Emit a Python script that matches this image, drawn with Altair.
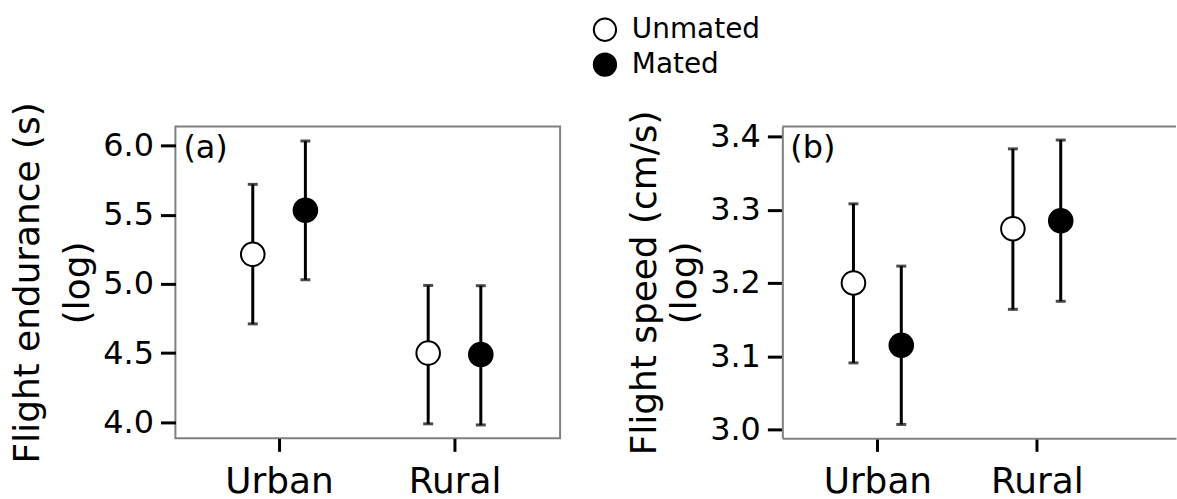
import altair as alt
import pandas as pd

# Habitat groups and mating status
HABITATS = ["Urban", "Rural"]
STATUS = ["Unmated", "Mated"]

# (a) flight endurance, log seconds: mean and interval bounds
END_MEAN = {"Unmated": [5.214, 4.50], "Mated": [5.533, 4.49]}
END_LO = {"Unmated": [4.711, 3.988], "Mated": [5.030, 3.980]}
END_HI = {"Unmated": [5.720, 4.989], "Mated": [6.033, 4.987]}

# (b) flight speed, log cm/s: mean and interval bounds
SPD_MEAN = {"Unmated": [3.200, 3.274], "Mated": [3.115, 3.285]}
SPD_LO = {"Unmated": [3.091, 3.164], "Mated": [3.007, 3.175]}
SPD_HI = {"Unmated": [3.308, 3.383], "Mated": [3.223, 3.395]}

END_TICKS = [4.0, 4.5, 5.0, 5.5, 6.0]
SPD_TICKS = [3.0, 3.1, 3.2, 3.3, 3.4]
PANEL_LABELS = ["(a)", "(b)"]
Y_TITLES = [["Flight endurance (s)", "(log)"], ["Flight speed (cm/s)", "(log)"]]

FONT = "DejaVu Sans"
FRAME = "#808080"
DODGE = 0.15


def table(mean, lo, hi):
    rows = []
    for s in STATUS:
        for i, h in enumerate(HABITATS):
            rows.append({"habitat": h, "pos": i + 1, "status": s,
                         "mean": mean[s][i], "lo": lo[s][i], "hi": hi[s][i]})
    return pd.DataFrame(rows)


label_expr = " : ".join(
    [f"datum.value == {i + 1} ? '{h}'" for i, h in enumerate(HABITATS)] + ["''"]
)


def panel(df, ticks, ydom, xdom, width, title, tag, framed, line_h):
    x_axis = alt.Axis(values=[1, 2], labelExpr=label_expr, title=None, grid=False,
                      labelFontSize=36, labelFont=FONT, labelColor="black",
                      tickSize=13, tickWidth=3, tickColor="black", labelPadding=13,
                      domain=not framed, domainColor=FRAME, domainWidth=2)
    y_axis = alt.Axis(values=ticks, format=".1f", title=title, grid=False,
                      labelFontSize=32, labelFont=FONT, labelColor="black",
                      tickSize=15, tickWidth=3, tickColor="black", labelPadding=7,
                      domain=not framed, domainColor=FRAME, domainWidth=2,
                      titleFontSize=36, titleFont=FONT, titleFontWeight="normal",
                      titleColor="black", titleLineHeight=line_h, titlePadding=6)
    base = alt.Chart(df).transform_calculate(
        xp=f"datum.pos + (datum.status == '{STATUS[0]}' ? -{DODGE} : {DODGE})"
    )
    x = alt.X("xp:Q", scale=alt.Scale(domain=xdom, nice=False, zero=False), axis=x_axis)
    y = alt.Y("mean:Q", scale=alt.Scale(domain=ydom, nice=False, zero=False), axis=y_axis)

    bars = base.mark_rule(color="black", strokeWidth=3).encode(
        x=x, y=alt.Y("lo:Q"), y2="hi:Q")
    caps_lo = base.mark_tick(color="black", orient="horizontal", size=10,
                             thickness=3).encode(x=x, y=alt.Y("lo:Q"))
    caps_hi = base.mark_tick(color="black", orient="horizontal", size=10,
                             thickness=3).encode(x=x, y=alt.Y("hi:Q"))
    pts = base.mark_point(shape="circle", filled=False, size=560, strokeWidth=2,
                          stroke="black", opacity=1).encode(
        x=x, y=y,
        fill=alt.Fill("status:N",
                      scale=alt.Scale(domain=STATUS, range=["white", "black"]),
                      legend=alt.Legend(title=None, orient="none", legendX=417,
                                        legendY=-111, labelFont=FONT,
                                        labelFontSize=28, labelColor="black",
                                        symbolType="circle", symbolSize=500,
                                        symbolStrokeWidth=2,
                                        symbolStrokeColor="black",
                                        labelOffset=13, rowPadding=3)),
    )
    lab = alt.Chart(pd.DataFrame({"t": [tag]})).mark_text(
        align="left", baseline="top", fontSize=32, font=FONT, color="black"
    ).encode(x=alt.value(8), y=alt.value(7), text="t:N")

    layers = [bars, caps_lo, caps_hi, pts, lab]
    if not framed:
        top = alt.Chart(pd.DataFrame({"t": [tag]})).mark_rule(
            color=FRAME, strokeWidth=2).encode(
            x=alt.value(0), x2=alt.value(width), y=alt.value(0))
        layers.append(top)
    ch = alt.layer(*layers).properties(width=width, height=313)
    if not framed:
        ch = ch.properties(view=alt.ViewBackground(strokeOpacity=0))
    return ch


end_df = table(END_MEAN, END_LO, END_HI)
spd_df = table(SPD_MEAN, SPD_LO, SPD_HI)

left = panel(end_df, END_TICKS, [3.883, 6.139], [0.409, 2.602], 386,
             Y_TITLES[0], PANEL_LABELS[0], True, 50)
right = panel(spd_df, SPD_TICKS, [2.988, 3.4136], [0.404, 2.873], 395,
              Y_TITLES[1], PANEL_LABELS[1], False, 40)

chart = alt.hconcat(left, right, spacing=66).properties(
    padding={"left": 9, "top": 15, "right": 0, "bottom": 0},
    background="white",
).configure_view(stroke=FRAME, strokeWidth=2)

chart.save("out.html", embed_options={"renderer": "svg", "actions": False})
